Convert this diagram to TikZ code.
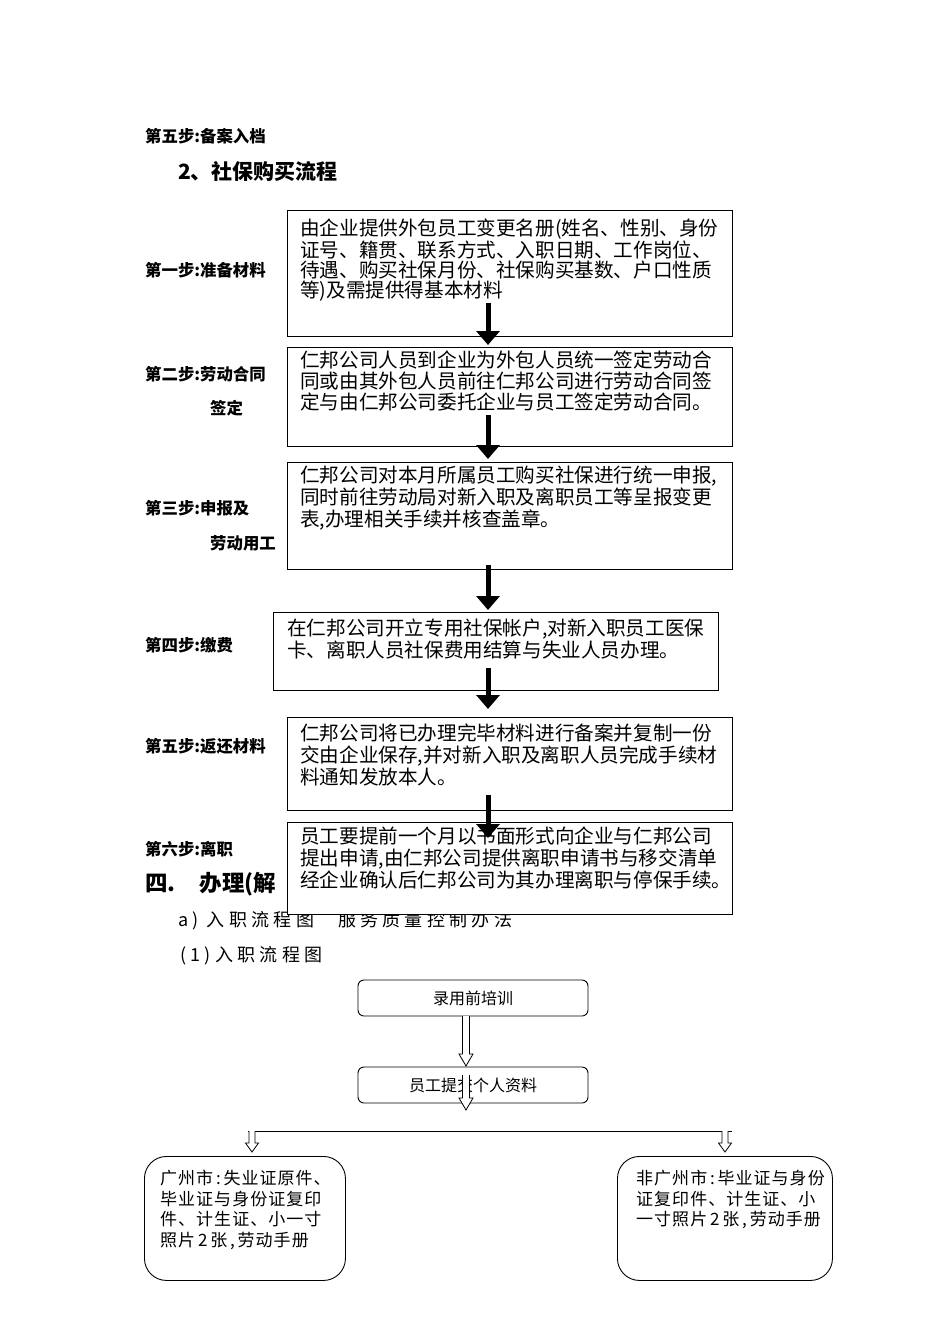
\documentclass[tikz,border=0pt]{standalone}
\usepackage{fontspec}
\setmainfont{Noto Sans CJK SC}
\usetikzlibrary{arrows.meta,calc}
\newcommand\hollowdown[5]{%
  \draw[line width=0.8pt,fill=white] (#1) ++(-#3,0) -- ++(0,#2-#5) -- ++(#3-#4,0)
    -- ++(#4,#5) -- ++(#4,-#5) -- ++(#3-#4,0) -- ++(0,#5-#2);}
\begin{document}
\begin{tikzpicture}[x=1pt,y=-1pt,
  lbl/.style={anchor=west,inner sep=0,font=\bfseries\fontsize{16.4}{18}\selectfont},
  stepbox/.style={draw,line width=1.4pt,fill=white,minimum width=445pt,inner sep=0,anchor=north west},
  boxtext/.style={anchor=north west,inner sep=0,align=left,font=\fontsize{19.6}{22}\selectfont},
  bigarrow/.style={line width=5pt,-{Triangle[width=23pt,length=14pt]}},
  rbox/.style={draw,line width=0.9pt,rounded corners=6pt,minimum width=230pt,minimum height=36pt,
    inner sep=0,font=\fontsize{16}{18}\selectfont},
  bigrbox/.style={draw,line width=0.9pt,rounded corners=22pt,anchor=north west,inner sep=0},
  smalltext/.style={anchor=north west,inner sep=0,align=left,font=\fontsize{17}{20.5}\selectfont\addfontfeature{LetterSpace=6}},
  spaced/.style={anchor=west,inner sep=0,font=\fontsize{18}{20}\selectfont\addfontfeature{LetterSpace=24}}
]
\useasboundingbox (0,0) rectangle (950,1344);

% headings
\node[lbl] (h0) at (145,136) {第五步:备案入档};
\node[anchor=west,inner sep=0,font=\bfseries\fontsize{21}{23}\selectfont] (h1) at (178,171) {2、社保购买流程};

% step labels
\node[lbl] (l1) at (145,270) {第一步:准备材料};
\node[lbl] (l2) at (145,374) {第二步:劳动合同};
\node[lbl] (l2b) at (210,408) {签定};
\node[lbl] (l3) at (145,508) {第三步:申报及};
\node[lbl] (l3b) at (210,543) {劳动用工};
\node[lbl] (l4) at (145,645) {第四步:缴费};
\node[lbl] (l5) at (145,746) {第五步:返还材料};
\node[lbl] (l6) at (145,849) {第六步:离职};

% section heading partly hidden by box 6
\node[anchor=west,inner sep=0,font=\bfseries\fontsize{22.5}{25}\selectfont] (s4) at (145,884) {四.\hspace{24pt}办理(解};
\node[spaced] (sa) at (178,921) {a)\hspace{8pt}入职流程图\hspace{24pt}服务质量控制办法};
\node[spaced] (sb) at (180,956) {(1)入职流程图};

% boxes
\node[stepbox,minimum height=126pt] (b1) at (287,210) {};
\node[boxtext,font=\fontsize{19.6}{20}\selectfont] (t1) at ([shift={(13pt,-9pt)}]b1.north west)
  {由企业提供外包员工变更名册(姓名、性别、身份\\证号、籍贯、联系方式、入职日期、工作岗位、\\待遇、购买社保月份、社保购买基数、户口性质\\等)及需提供得基本材料};
\node[stepbox,minimum height=99pt] (b2) at (287,347) {};
\node[boxtext,font=\fontsize{19.6}{21}\selectfont] (t2) at ([shift={(13pt,-4pt)}]b2.north west)
  {仁邦公司人员到企业为外包人员统一签定劳动合\\同或由其外包人员前往仁邦公司进行劳动合同签\\定与由仁邦公司委托企业与员工签定劳动合同。};
\node[stepbox,minimum height=107pt] (b3) at (287,462) {};
\node[boxtext] (t3) at ([shift={(13pt,-4pt)}]b3.north west)
  {仁邦公司对本月所属员工购买社保进行统一申报,\\同时前往劳动局对新入职及离职员工等呈报变更\\表,办理相关手续并核查盖章。};
\node[stepbox,minimum height=78pt] (b4) at (273,612) {};
\node[boxtext] (t4) at ([shift={(14pt,-7pt)}]b4.north west)
  {在仁邦公司开立专用社保帐户,对新入职员工医保\\卡、离职人员社保费用结算与失业人员办理。};
\node[stepbox,minimum height=93pt] (b5) at (287,717) {};
\node[boxtext] (t5) at ([shift={(13pt,-7pt)}]b5.north west)
  {仁邦公司将已办理完毕材料进行备案并复制一份\\交由企业保存,并对新入职及离职人员完成手续材\\料通知发放本人。};
\node[stepbox,minimum height=92pt] (b6) at (287,822) {};
\node[boxtext] (t6) at ([shift={(13pt,-5pt)}]b6.north west)
  {员工要提前一个月以书面形式向企业与仁邦公司\\提出申请,由仁邦公司提供离职申请书与移交清单\\经企业确认后仁邦公司为其办理离职与停保手续。};

% thick arrows
\coordinate (a1s) at (488,303); \coordinate (a1e) at (488,345);
\coordinate (a2s) at (488,415); \coordinate (a2e) at (488,459);
\coordinate (a3s) at (488,565); \coordinate (a3e) at (488,610);
\coordinate (a4s) at (488,668); \coordinate (a4e) at (488,709);
\coordinate (a5s) at (488,795); \coordinate (a5e) at (488,838);
\draw[bigarrow] (a1s) -- (a1e);
\draw[bigarrow] (a2s) -- (a2e);
\draw[bigarrow] (a3s) -- (a3e);
\draw[bigarrow] (a4s) -- (a4e);
\draw[bigarrow] (a5s) -- (a5e);

% lower flow chart
\node[rbox] (r1) at (473,998) {录用前培训};
\node[rbox] (r2) at (473,1085) {员工提交个人资料};
\coordinate (h1s) at (466,1016);
\hollowdown{h1s}{50}{3.5}{7}{12}
\coordinate (h2s) at (466,1075);
\hollowdown{h2s}{35}{3.5}{7}{12}

\coordinate (hl) at (248,1131); \coordinate (hr) at (732,1131);
\draw[line width=0.9pt] (hl) -- (hr);
\coordinate (sl) at (252,1131); \coordinate (sr) at (725,1131);
\hollowdown{sl}{21}{3}{6.5}{9}
\hollowdown{sr}{21}{3}{6.5}{9}

\node[bigrbox,minimum width=201pt,minimum height=124pt] (lb) at (144,1156) {};
\node[smalltext] (lt) at ([shift={(16pt,-14pt)}]lb.north west)
  {广州市\,:\,失业证原件、\\毕业证与身份证复印\\件、计生证、小一寸\\照片\,2\,张\,,\,劳动手册};
\node[bigrbox,minimum width=215pt,minimum height=124pt] (rb) at (617,1156) {};
\node[smalltext] (rt) at ([shift={(19pt,-14pt)}]rb.north west)
  {非广州市\,:\,毕业证与身份\\证复印件、计生证、小\\一寸照片\,2\,张\,,\,劳动手册};
\end{tikzpicture}
\end{document}
